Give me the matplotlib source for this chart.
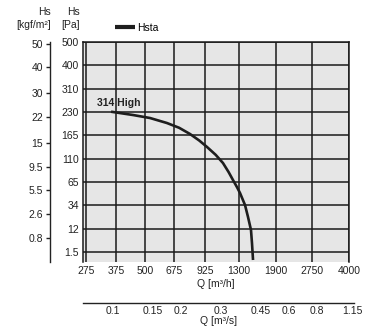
import numpy as np
import matplotlib
matplotlib.use("Agg")
import matplotlib.pyplot as plt

plt.rcParams['font.family'] = ['Liberation Sans', 'DejaVu Sans']

# axis ticks
q_ticks = [275, 375, 500, 675, 925, 1300, 1900, 2750, 4000]
pa_ticks = [500, 400, 310, 230, 165, 110, 65, 34, 12, 1.5]
kgf_ticks = [50, 40, 30, 22, 15, 9.5, 5.5, 2.6, 0.8]
qs_ticks = [0.1, 0.15, 0.2, 0.3, 0.45, 0.6, 0.8, 1.15]

# fan curve "314 High" (Q in m3/h, Hs in Pa)
curve_q = [355, 444, 528, 627, 710, 793, 870, 943, 1030, 1109, 1175, 1228, 1280,
           1319, 1388, 1431, 1475, 1490, 1506]
curve_pa = [231, 221.6, 213.2, 199.3, 186, 168.7, 153, 137.5, 119, 101.6, 84, 68.8, 58,
            50.4, 34.4, 23.0, 11.4, 5.5, -2.1]

W, H = 369, 327

# piecewise scale: every Pa tick gets the same spacing
xs = np.array(pa_ticks[::-1], dtype=float)
ys = np.arange(len(xs), dtype=float)

def pa_fwd(v):
    v = np.asarray(v, dtype=float)
    out = np.interp(v, xs, ys)
    out = np.where(v < xs[0], (v - xs[0]) / (xs[1] - xs[0]), out)
    out = np.where(v > xs[-1], ys[-1] + (v - xs[-1]) / (xs[-1] - xs[-2]), out)
    return out

def pa_inv(p):
    p = np.asarray(p, dtype=float)
    out = np.interp(p, ys, xs)
    out = np.where(p < 0, xs[0] + p * (xs[1] - xs[0]), out)
    out = np.where(p > ys[-1], xs[-1] + (p - ys[-1]) * (xs[-1] - xs[-2]), out)
    return out

def px(x0, y0, x1, y1):
    return [x0 / W, 1 - y1 / H, (x1 - x0) / W, (y1 - y0) / H]

fig = plt.figure(figsize=(W / 100, H / 100), dpi=100)
ax = fig.add_axes(px(83, 42, 349, 262))
ax.set_facecolor('#e6e6e6')

ax.set_xscale('log')
q0, q1 = 266.8, 4000
ax.set_xlim(q0, q1)
ax.set_yscale('function', functions=(pa_fwd, pa_inv))
ylo = -3.0
ax.set_ylim(ylo, 500)

ax.set_xticks(q_ticks)
ax.set_xticklabels([str(t) for t in q_ticks])
ax.xaxis.set_minor_locator(matplotlib.ticker.NullLocator())
ax.set_yticks(pa_ticks)
ax.set_yticklabels([f"{t:g}" for t in pa_ticks])
ax.yaxis.set_minor_locator(matplotlib.ticker.NullLocator())
ax.tick_params(length=0, labelsize=7.5, colors='#222222')
ax.tick_params(axis='y', pad=3)
ax.tick_params(axis='x', pad=3)
ax.grid(True, color='#1a1a1a', linewidth=1.1)
for s in ['top', 'right', 'left']:
    ax.spines[s].set_color('#1a1a1a')
    ax.spines[s].set_linewidth(1.1)
ax.spines['bottom'].set_visible(False)
ax.set_xlabel("Q [m³/h]", fontsize=7.5, labelpad=2, color='#222222')

ax.plot(curve_q, curve_pa, color='#1e1e1e', linewidth=1.9, label='Hsta',
        solid_capstyle='butt', solid_joinstyle='round')
ax.annotate("314 High", xy=(curve_q[0], curve_pa[0]), xytext=(-14, 4),
            textcoords='offset pixels', ha='left', va='bottom',
            fontsize=7.5, fontweight='bold', color='#222222')
ax.legend(loc='center left', bbox_to_anchor=(0.12, 1 + 14 / 220), frameon=False,
          fontsize=7.5, handlelength=1.9, handletextpad=0.2, borderpad=0,
          borderaxespad=0)
for line in ax.get_legend().get_lines():
    line.set_linewidth(3)

# left axis in kgf/m2
axk = fig.add_axes(px(50, 42, 51, 262))
axk.set_yscale('function', functions=(lambda k: pa_fwd(np.asarray(k) * 9.81),
                                      lambda p: pa_inv(p) / 9.81))
axk.set_ylim(ylo / 9.81, 500 / 9.81)
axk.set_yticks(kgf_ticks)
axk.set_yticklabels([f"{t:g}" for t in kgf_ticks])
axk.yaxis.set_minor_locator(matplotlib.ticker.NullLocator())
axk.set_xticks([])
axk.patch.set_visible(False)
for s in ['top', 'right', 'bottom']:
    axk.spines[s].set_visible(False)
axk.spines['left'].set_color('#222222')
axk.spines['left'].set_linewidth(1.0)
axk.tick_params(axis='y', length=3, width=1.0, pad=2, labelsize=7.5, colors='#222222')

# bottom axis in m3/s
right_px = 354
s0 = q0 / 3600
s1 = q0 * (q1 / q0) ** ((right_px - 83) / (349 - 83)) / 3600
axs = fig.add_axes(px(83, 302, right_px, 303))
axs.set_xscale('log')
axs.set_xlim(s0, s1)
axs.set_xticks(qs_ticks)
axs.set_xticklabels([f"{t:g}" for t in qs_ticks])
axs.xaxis.set_minor_locator(matplotlib.ticker.NullLocator())
axs.set_yticks([])
axs.patch.set_visible(False)
for s in ['top', 'right', 'left']:
    axs.spines[s].set_visible(False)
axs.spines['bottom'].set_color('#222222')
axs.spines['bottom'].set_linewidth(1.0)
axs.tick_params(axis='x', length=0, pad=2, labelsize=7.5, colors='#222222')
axs.set_xlabel("Q [m³/s]", fontsize=7.5, labelpad=0.5, color='#222222')

# column headers
fig.text(51 / W, 1 - 12 / H, "Hs", ha='right', va='center', fontsize=7.5, color='#222222')
fig.text(51 / W, 1 - 25 / H, "[kgf/m²]", ha='right', va='center', fontsize=7.5, color='#222222')
fig.text(80 / W, 1 - 12 / H, "Hs", ha='right', va='center', fontsize=7.5, color='#222222')
fig.text(80 / W, 1 - 25 / H, "[Pa]", ha='right', va='center', fontsize=7.5, color='#222222')

fig.savefig("out.png", dpi=100, facecolor='white')
